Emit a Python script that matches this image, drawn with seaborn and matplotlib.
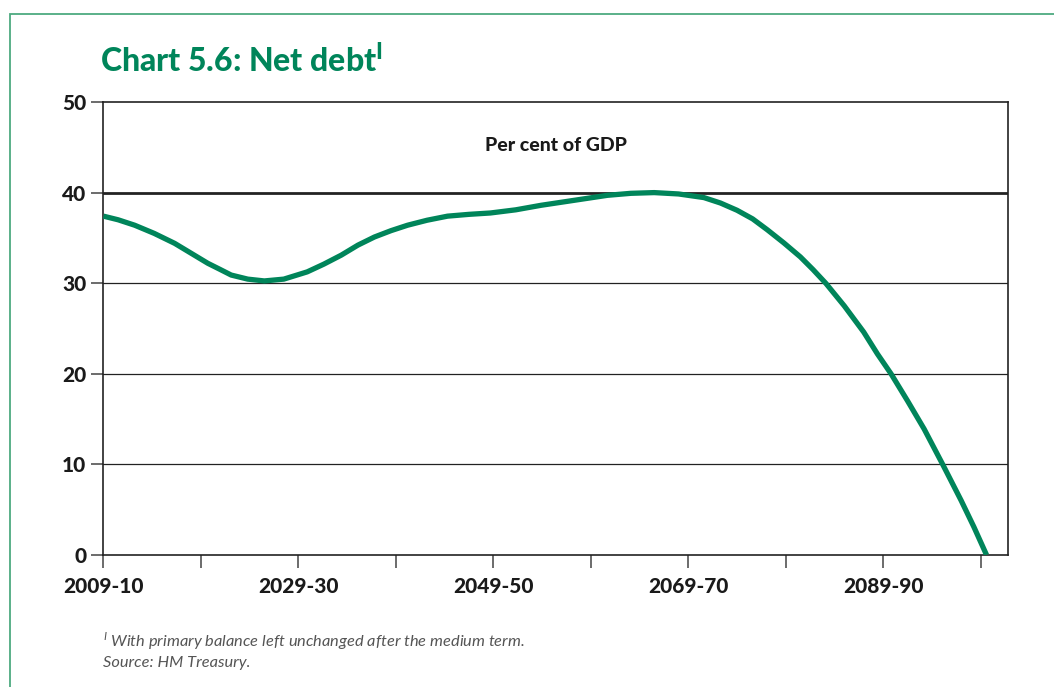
"""
Chart 5.6: Net debt, per cent of GDP (long-term projection)
"""

import numpy as np
import pandas as pd
import matplotlib
matplotlib.use("Agg")
import matplotlib.pyplot as plt
import seaborn as sns
from matplotlib.patches import Rectangle

# ─────────────────────────────────────────────
# DATA (x = years after 2009-10)
# ─────────────────────────────────────────────
years_since_2009 = [0.0, 1.5, 3.2, 5.2, 7.3, 9.0, 10.7, 12.0, 13.1, 14.8, 16.5,
                    18.5, 20.9, 22.6, 24.4, 26.1, 27.8, 29.5, 31.2, 33.2, 35.3,
                    37.5, 39.7, 42.3, 44.9, 48.3, 51.7, 54.1, 56.5, 59.0, 61.6,
                    63.3, 65.0, 66.6, 68.1, 69.8, 71.5, 72.8, 74.1, 76.0, 78.0,
                    79.4, 80.8, 82.5, 84.2, 86.1, 88.0, 89.3, 90.6]
net_debt = [37.4, 37.0, 36.4, 35.5, 34.4, 33.3, 32.2, 31.5, 30.9, 30.45, 30.25,
            30.45, 31.25, 32.1, 33.1, 34.2, 35.1, 35.8, 36.4, 36.95, 37.4,
            37.6, 37.75, 38.1, 38.6, 39.15, 39.7, 39.92, 40.0, 39.85, 39.45,
            38.85, 38.05, 37.1, 35.9, 34.45, 32.9, 31.5, 30.0, 27.5, 24.6,
            22.2, 20.0, 17.0, 13.9, 10.0, 6.0, 3.1, 0.0]

tick_pos = [0, 10, 20, 30, 40, 50, 60, 70, 80, 90]
tick_lbl = ["2009-10", "", "2029-30", "", "2049-50", "", "2069-70", "", "2089-90", ""]
y_ticks = [0, 10, 20, 30, 40, 50]

GREEN = "#00855A"
BORDER = "#4DAA80"

df = pd.DataFrame({"year": years_since_2009, "debt": net_debt})

# ─────────────────────────────────────────────
# PLOT
# ─────────────────────────────────────────────
sns.set_style("white")
plt.rcParams["font.family"] = ["Lato", "DejaVu Sans"]

fig = plt.figure(figsize=(10.54, 6.87), dpi=100)
ax = fig.add_axes([103 / 1054, 1 - 555 / 687, 905 / 1054, 453 / 687])

# green frame round the whole chart
fig.patches.append(Rectangle((10 / 1054, -0.05), 1.1, 1 - 14 / 687 + 0.05,
                             transform=fig.transFigure, fill=False,
                             edgecolor=BORDER, linewidth=1.3))

for v in [10, 20, 30]:
    ax.axhline(v, color="#222222", linewidth=0.9, zorder=1)
ax.axhline(40, color="#222222", linewidth=2.0, zorder=1)

sns.lineplot(data=df, x="year", y="debt", color=GREEN, linewidth=3.8, ax=ax,
             zorder=3, solid_joinstyle="round", solid_capstyle="butt")

ax.set_xlim(-0.05, 92.8)
ax.set_ylim(0, 50)
ax.set_xticks(tick_pos)
ax.set_xticklabels(tick_lbl)
ax.set_yticks(y_ticks)
ax.set_xlabel("")
ax.set_ylabel("")

for s in ax.spines.values():
    s.set_color("#222222")
    s.set_linewidth(1.2)

ax.tick_params(axis="both", direction="out", length=9, width=1.1, color="#444444",
               labelsize=15, bottom=True, left=True)
ax.tick_params(axis="x", pad=7)
ax.tick_params(axis="y", pad=3)
for lbl in ax.get_xticklabels() + ax.get_yticklabels():
    lbl.set_fontweight("black")
    lbl.set_color("#1a1a1a")

ax.text(0.5, 0.905, "Per cent of GDP", transform=ax.transAxes, ha="center",
        va="center", fontsize=14, fontweight="black", color="#1a1a1a")

fig.text(100 / 1054, 1 - 60 / 687, r"Chart 5.6: Net debt$^{\mathregular{I}}$",
         fontsize=23, fontweight="black", color=GREEN, va="center", ha="left")

fig.text(103 / 1054, 1 - 641 / 687, r"$^{\mathregular{I}}$ With primary balance left unchanged after the medium term.",
         fontsize=11.8, style="italic", color="#555555", va="center", ha="left")
fig.text(103 / 1054, 1 - 663 / 687, "Source: HM Treasury.",
         fontsize=11.8, style="italic", color="#555555", va="center", ha="left")

fig.savefig("out.png", dpi=100)
plt.close(fig)
